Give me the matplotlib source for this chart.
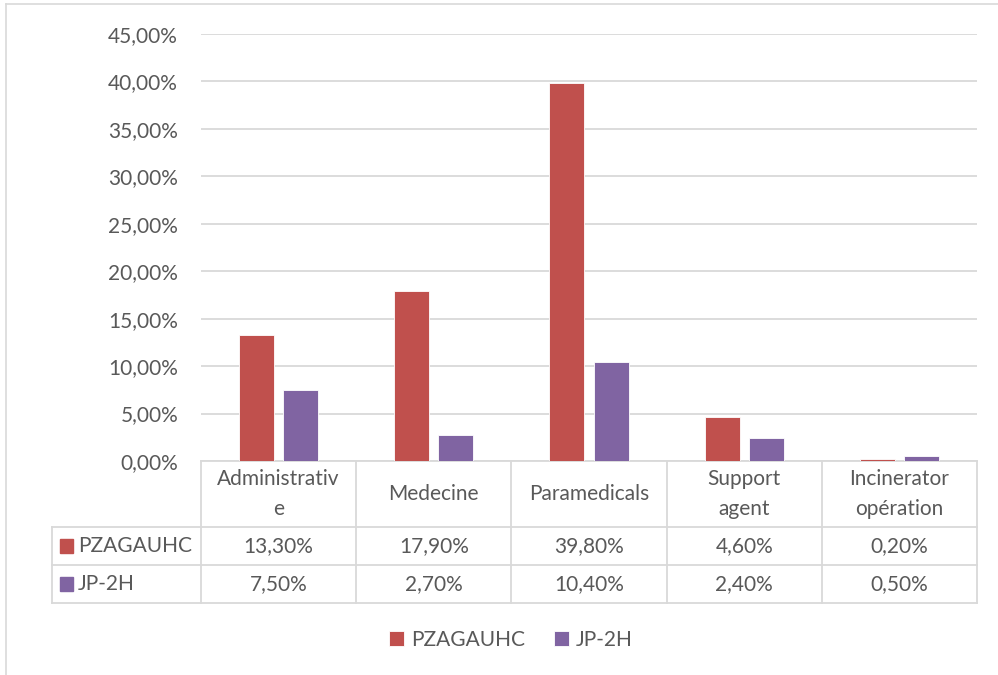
import matplotlib as mpl
import matplotlib.pyplot as plt
import matplotlib.transforms as mtransforms
import numpy as np

mpl.rcParams['font.family'] = ['Lato', 'DejaVu Sans']

# data
categories = ['Administrativ\ne', 'Medecine', 'Paramedicals', 'Support\nagent', 'Incinerator\nopération']
series_names = ['PZAGAUHC', 'JP-2H']
pzagauhc = [13.3, 17.9, 39.8, 4.6, 0.2]
jp2h = [7.5, 2.7, 10.4, 2.4, 0.5]
yticks = [0, 5, 10, 15, 20, 25, 30, 35, 40, 45]

red = '#C0504D'
purple = '#8064A2'
txt = '#595959'
grid = '#D9D9D9'
fs = 15

W, H = 998, 675
fig = plt.figure(figsize=(W / 100, H / 100), dpi=100)


def fx(px):
    return px / W


def fy(py):
    return 1 - py / H


# outer frame
fig.add_artist(plt.Line2D([fx(6), fx(6)], [fy(4), 0], color=grid, lw=1.2))
fig.add_artist(plt.Line2D([fx(6), 1], [fy(4), fy(4)], color=grid, lw=1.2))

ax = fig.add_axes([fx(201), fy(461), fx(977) - fx(201), fy(34) - fy(461)])
x = np.arange(len(categories))
w = 0.226
off = 0.142
b1 = ax.bar(x - off, pzagauhc, w, color=red, edgecolor='white', lw=0.6, label=series_names[0], zorder=3)
b2 = ax.bar(x + off, jp2h, w, color=purple, edgecolor='white', lw=0.6, label=series_names[1], zorder=3)

ax.set_xlim(-0.5, len(categories) - 0.5)
ax.set_ylim(0, 45)
ax.set_yticks(yticks)
ax.set_yticklabels([f'{v:.2f}%'.replace('.', ',') for v in yticks], color=txt, fontsize=fs)
ax.set_xticks([])
ax.tick_params(axis='y', length=0, pad=16.5)
ax.yaxis.grid(True, color=grid, lw=1.3, zorder=0)
for s in ax.spines.values():
    s.set_visible(False)

# data table below the axis
tr = mtransforms.blended_transform_factory(ax.transData, fig.transFigure)
rows_y = [461, 527, 565, 603]
lc = dict(color=grid, lw=1.3, clip_on=False)
for i in range(len(categories) + 1):
    ax.add_line(plt.Line2D([i - 0.5, i - 0.5], [fy(461), fy(603)], transform=tr, **lc))
ax.add_line(plt.Line2D([-0.5, len(categories) - 0.5], [fy(461), fy(461)], transform=tr, **lc))
for ry in rows_y[1:]:
    fig.add_artist(plt.Line2D([fx(52), fx(977)], [fy(ry), fy(ry)], color=grid, lw=1.3))
fig.add_artist(plt.Line2D([fx(52), fx(52)], [fy(527), fy(603)], color=grid, lw=1.3))

for i, c in enumerate(categories):
    ax.text(i, fy(494), c, transform=tr, ha='center', va='center', color=txt, fontsize=fs, linespacing=1.65)

for r, (name, vals, col) in enumerate(zip(series_names, [pzagauhc, jp2h], [red, purple])):
    cy = (rows_y[r + 1] + rows_y[r + 2]) / 2
    fig.add_artist(plt.Rectangle((fx(60), fy(cy + 7)), fx(13), fy(cy - 7) - fy(cy + 7), color=col))
    fig.text(fx(78), fy(cy), name, ha='left', va='center', color=txt, fontsize=fs)
    for i, v in enumerate(vals):
        ax.text(i, fy(cy), f'{v:.2f}%'.replace('.', ','), transform=tr, ha='center', va='center',
                color=txt, fontsize=fs)

leg = fig.legend(handles=[b1, b2], loc='center', bbox_to_anchor=(fx(511), fy(640)), ncol=2, frameon=False,
                 fontsize=fs, handlelength=0.7, handleheight=0.7, handletextpad=0.35, columnspacing=1.4)
for t in leg.get_texts():
    t.set_color(txt)

fig.savefig('out.png', dpi=100)
